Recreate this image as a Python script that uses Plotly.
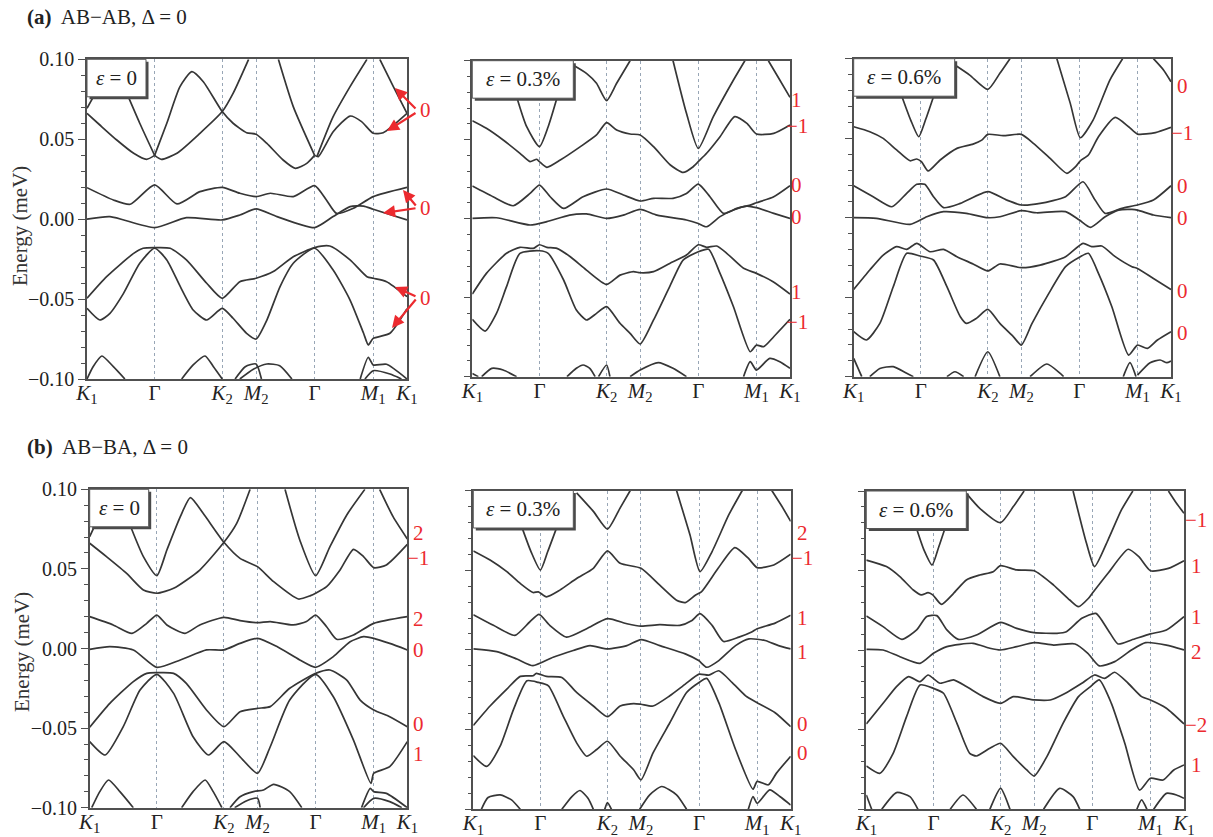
import plotly.graph_objects as go

# ---------------- axes / labels ----------------
K_SYM = [0, 1, 2, 2.5, 3.366, 4.232, 4.732]
K_LABELS = ["<i>K</i><sub>1</sub>", "Γ", "<i>K</i><sub>2</sub>", "<i>M</i><sub>2</sub>",
            "Γ", "<i>M</i><sub>1</sub>", "<i>K</i><sub>1</sub>"]
E_TICKS = [-0.1, -0.05, 0.0, 0.05, 0.1]
E_TICK_TEXT = ["−0.10", "−0.05", "0.00", "0.05", "0.10"]
UEV = 1e-3  # band energies below are given in µeV (1e-3 meV)

# ---------------- band data: (k, E[µeV]) ----------------
a1_bands = [
    ([0, 0.19, 0.39], [69.3, 83.9, 100]),
    ([0, 0.19, 0.44, 0.69, 0.88, 1.0], [66.2, 58.9, 49.5, 41.2, 37.4, 39.9]),
    ([1.0, 1.10, 1.33, 1.67, 2.0, 2.16, 2.39], [39.9, 37.4, 41.2, 53.7, 67.3, 78.7, 100]),
    ([0.61, 0.78, 1.0], [76.6, 60, 39.9]),
    ([1.0, 1.18, 1.375, 1.55, 1.72, 2.0, 2.16, 2.36, 2.5, 2.66, 2.90, 3.08, 3.25, 3.366],
     [39.9, 60, 82.9, 92.3, 86.0, 67.3, 60, 54.1, 53.1, 47.4, 37, 31.8, 34.9, 39.9]),
    ([2.83, 3.05, 3.366], [100, 70.4, 39.9]),
    ([3.366, 3.42, 3.64, 3.89, 4.06, 4.232, 4.38, 4.732], [39.9, 39.1, 54.7, 64.5, 61, 53.7, 54.1, 66.2]),
    ([3.40, 3.64, 3.89, 4.14], [39.1, 64.1, 82.9, 100]),
    ([4.33, 4.53, 4.732], [100, 82.9, 66.2]),
    ([0, 0.39, 0.64, 1.0, 1.33, 1.67, 2.0, 2.26, 2.5, 2.71, 3.05, 3.366, 3.54, 3.69, 3.94, 4.232, 4.732],
     [19.7, 12, 9.3, 21.4, 9.5, 17.2, 19.9, 16.2, 14.1, 16.2, 14.1, 21, 12, 3.6, 6.8, 14.1, 19.9]),
    ([0, 0.34, 1.0, 1.47, 2.0, 2.26, 2.5, 2.81, 3.366, 3.64, 3.89, 4.09, 4.232, 4.732],
     [0, 1.6, -5.3, 0.9, -0.5, 2.6, 6.4, 1.6, -5.3, 1.6, 7.8, 8.2, 6.2, -0.5]),
    ([0, 0.29, 0.69, 0.83, 1.0, 1.23, 1.47, 1.77, 2.0, 2.26, 2.5, 2.755, 3.05, 3.366, 3.59, 3.89, 4.14, 4.232, 4.43, 4.732],
     [-49.5, -36, -21.4, -18.2, -17.8, -18.2, -25.5, -40.1, -49.5, -39.1, -37, -32.8, -23.5, -17.8, -16.8, -25.5, -36, -37, -39.1, -48.5]),
    ([0, 0.19, 0.34, 0.54, 0.78, 1.0, 1.18, 1.38, 1.57, 1.77, 2.0, 2.16, 2.36, 2.5, 2.66, 2.855, 3.05, 3.366, 3.64, 3.89, 4.09, 4.16, 4.232, 4.48, 4.732],
     [-55.8, -63.1, -58.9, -46.4, -27.6, -18.2, -25.5, -42.2, -56.8, -63.1, -55.8, -62, -71.4, -75, -63.1, -42.2, -27.6, -18.2, -31.8, -50.6, -71.4, -78.7, -74.6, -71.4, -56]),
    ([0, 0.09, 0.22, 0.39, 0.56], [-100, -92.3, -85.6, -92.3, -100]),
    ([1.40, 1.57, 1.745, 1.87, 2.0], [-100, -91.2, -85.6, -92.3, -100]),
    ([2.19, 2.34, 2.5, 2.58], [-100, -92.3, -90.6, -100]),
    ([2.26, 2.46, 2.66, 2.85, 3.03], [-100, -93.9, -90.6, -91.7, -100]),
    ([4.04, 4.16, 4.232, 4.43, 4.732], [-100, -86.4, -91.2, -90.8, -100]),
    ([4.11, 4.232, 4.48, 4.65], [-100, -94.8, -96.9, -100]),
]

a2_bands = [
    ([0.66, 0.81, 1.0, 1.13, 1.26], [77.2, 58.2, 45.6, 58.2, 76.2]),
    ([1.50, 1.70, 1.85, 2.0, 2.15, 2.35], [97.3, 92, 85.7, 74.7, 85.7, 100]),
    ([0, 0.21, 0.46, 0.71, 0.86, 0.96, 1.0, 1.11, 1.31, 1.61, 1.85, 2.0, 2.15, 2.35, 2.5, 2.70, 2.95, 3.14, 3.29, 3.38, 3.49, 3.69, 3.91, 4.09, 4.232, 4.49, 4.732],
     [62, 57.2, 49.8, 41.4, 36.1, 37.6, 36.1, 32.5, 37.1, 45.6, 53, 60.8, 56.1, 53.6, 53, 45.6, 34, 29.3, 32.9, 36.7, 41.4, 51.9, 64.6, 60.3, 53.6, 54, 59.3]),
    ([2.99, 3.19, 3.366, 3.59, 3.89, 4.06], [100, 66.7, 44.5, 64.6, 87.8, 100]),
    ([4.41, 4.58, 4.732], [100, 87.8, 76.8]),
    ([0, 0.31, 0.61, 0.86, 1.0, 1.16, 1.36, 1.65, 2.0, 2.25, 2.5, 2.70, 2.99, 3.19, 3.366, 3.54, 3.74, 3.94, 4.14, 4.232, 4.49, 4.732],
     [20.7, 13.9, 8.2, 16, 21.3, 13.9, 6.5, 13.9, 18.8, 15, 11.2, 12.9, 12.9, 16, 21.9, 13.9, 3.4, 6.5, 8.6, 10.1, 13.9, 20.9]),
    ([0, 0.36, 0.86, 1.11, 1.45, 1.70, 2.0, 2.25, 2.5, 2.75, 3.19, 3.366, 3.49, 3.69, 3.89, 4.09, 4.232, 4.49, 4.732],
     [0.2, 0.6, -4, -1.9, 2.3, 3, 0.2, 2.3, 5.9, 2.3, -0.8, -3, -5.1, 1.3, 5.5, 8, 7, 3.4, 0.2]),
    ([0, 0.21, 0.51, 0.71, 0.91, 1.0, 1.11, 1.26, 1.46, 1.70, 2.0, 2.20, 2.40, 2.5, 2.70, 2.94, 3.19, 3.366, 3.49, 3.64, 3.79, 4.04, 4.232, 4.48, 4.732],
     [-47.7, -34.6, -21.9, -18.1, -18.8, -16.5, -18.1, -18.8, -24.1, -32.5, -41.6, -35.7, -33.5, -34.2, -33.5, -28.3, -23, -16.5, -18.1, -17.3, -21.9, -31.4, -34.6, -39.9, -47.7]),
    ([0, 0.19, 0.36, 0.51, 0.71, 1.0, 1.13, 1.36, 1.55, 1.70, 1.85, 2.0, 2.20, 2.35, 2.5, 2.70, 2.94, 3.14, 3.366, 3.52, 3.69, 3.89, 4.14, 4.232, 4.34, 4.49, 4.732],
     [-63.7, -71.1, -59.9, -43, -21.9, -20.3, -21.9, -38.8, -57.8, -64.1, -59.9, -55.7, -66.2, -72.6, -79.3, -64.1, -43, -26.2, -20.9, -19.4, -34.6, -55.7, -84.2, -80, -81, -74.7, -63.7]),
    ([0, 0.09], [-97.9, -100]),
    ([0.14, 0.29, 0.46, 0.66], [-100, -94.7, -95.8, -100]),
    ([1.41, 1.55, 1.65, 1.75, 1.83], [-100, -94.7, -92.6, -94.7, -100]),
    ([1.88, 2.0, 2.05], [-100, -92.6, -100]),
    ([2.35, 2.5, 2.77, 2.99, 3.19], [-100, -95.8, -91.1, -94.7, -100]),
    ([4.04, 4.14, 4.232, 4.43, 4.58, 4.732], [-100, -90.5, -95.8, -88.4, -90.5, -94.7]),
]

a3_bands = [
    ([0.72, 0.85, 0.97, 1.07, 1.19], [76.1, 61.4, 50.9, 61.4, 76.1]),
    ([1.51, 1.73, 2.0, 2.18, 2.33], [96, 89.7, 80.7, 90.8, 100]),
    ([0, 0.24, 0.44, 0.64, 0.84, 0.94, 1.01, 1.11, 1.29, 1.54, 1.78, 1.91, 2.0, 2.23, 2.5, 2.68, 2.93, 3.18, 3.31, 3.38, 3.50, 3.65, 3.90, 4.10, 4.232, 4.50, 4.732],
     [57.2, 54.1, 49.9, 42.6, 35.8, 36.9, 35.2, 29.4, 36.3, 43.6, 46.3, 48.8, 52.4, 51.6, 52.4, 46.8, 37.3, 27.9, 32.1, 35.8, 39.4, 50.9, 63.1, 57.2, 52.6, 53.5, 56.8]),
    ([3.03, 3.23, 3.38, 3.57, 3.82, 4.01], [100, 71.9, 50.3, 61.4, 86.6, 100]),
    ([4.47, 4.62, 4.732], [100, 92.9, 85.5]),
    ([0, 0.29, 0.57, 0.79, 0.94, 1.06, 1.19, 1.34, 1.59, 2.0, 2.28, 2.5, 2.78, 3.16, 3.42, 3.60, 3.75, 4.0, 4.232, 4.47, 4.732],
     [20.1, 13.2, 6.9, 15.3, 21, 21, 13.2, 6.3, 9, 16.4, 11.1, 8, 9, 13.2, 22.6, 11.1, 2.7, 5.9, 8, 11.1, 20.1]),
    ([0, 0.34, 0.84, 1.09, 1.34, 1.68, 2.0, 2.18, 2.5, 2.73, 3.16, 3.366, 3.53, 3.75, 3.95, 4.15, 4.232, 4.47, 4.732],
     [0, -0.4, -4.2, 0.6, 3.8, 2.7, 0, 0.6, 4.4, 3.1, 3.8, -1.5, -6.1, 0.6, 4.8, 5.2, 4.8, 1.7, 0]),
    ([0, 0.24, 0.44, 0.64, 0.79, 0.94, 1.14, 1.34, 1.54, 1.78, 2.0, 2.18, 2.5, 2.78, 3.16, 3.42, 3.55, 3.70, 3.90, 4.15, 4.232, 4.47, 4.732],
     [-45.1, -32.9, -23.5, -18.2, -19.9, -16.1, -21.4, -19.9, -24.5, -29.1, -33.5, -29.1, -31.4, -29.8, -24.5, -16.1, -18.2, -17.8, -24.5, -30.8, -31.9, -38.2, -45.1]),
    ([0, 0.19, 0.39, 0.59, 0.79, 0.99, 1.19, 1.39, 1.59, 1.68, 1.83, 2.0, 2.18, 2.38, 2.5, 2.66, 2.91, 3.16, 3.366, 3.50, 3.65, 3.85, 4.10, 4.232, 4.38, 4.53, 4.732],
     [-71.7, -76.9, -66.5, -43.4, -22.4, -24.1, -26.6, -43.4, -62.3, -66.5, -63.3, -57.7, -66.5, -74.8, -80.1, -66.5, -47.6, -30.8, -24.9, -22.4, -35, -56, -86.4, -80.1, -82.2, -76.9, -71.7]),
    ([0, 0.12], [-88.5, -100]),
    ([0.24, 0.39, 0.59, 0.79, 0.89], [-100, -94.8, -93.7, -97.9, -100]),
    ([1.39, 1.51, 1.64], [-100, -96.9, -100]),
    ([1.81, 2.0, 2.18], [-100, -84.3, -100]),
    ([2.63, 2.88, 3.08, 3.13], [-100, -92, -97.9, -100]),
    ([4.02, 4.12, 4.21], [-100, -91.2, -100]),
    ([4.232, 4.42, 4.57, 4.67, 4.732], [-99, -91.2, -89.5, -91.2, -90.1]),
]

b1_bands = [
    ([0, 0.15, 0.33], [70.3, 83.9, 100]),
    ([0, 0.25, 0.55, 0.80, 1.0, 1.25, 1.64, 2.0, 2.19, 2.39], [66.1, 57.7, 47.2, 36.8, 34.7, 37.8, 49.3, 66.7, 78.6, 100]),
    ([0.62, 0.80, 1.0, 1.15, 1.35, 1.50, 1.69, 2.0, 2.24, 2.5, 2.74, 3.11, 3.29, 3.366, 3.53, 3.73, 3.93, 4.08, 4.232, 4.42, 4.732],
     [75.5, 57.7, 45.8, 61.9, 82.8, 94.8, 84.9, 66.7, 56.6, 51.4, 42, 31.1, 33.2, 34.7, 38.8, 49.3, 62.3, 57.7, 50.8, 52.5, 65.4]),
    ([2.91, 3.13, 3.366, 3.58, 3.83, 4.10], [100, 68.2, 45.8, 64, 83.9, 100]),
    ([4.32, 4.52, 4.732], [100, 82.8, 68.8]),
    ([0, 0.35, 0.63, 0.85, 1.0, 1.15, 1.42, 1.64, 2.0, 2.24, 2.5, 2.69, 3.03, 3.23, 3.366, 3.53, 3.68, 3.93, 4.232, 4.732],
     [20, 14.8, 9.5, 15.8, 21, 14.8, 9.5, 14.8, 19.6, 17.5, 16.2, 16.9, 14.8, 16.9, 21, 13.7, 5.8, 8.5, 15.8, 20]),
    ([0, 0.30, 0.65, 1.0, 1.35, 1.74, 2.0, 2.24, 2.5, 2.79, 3.13, 3.366, 3.63, 3.88, 4.08, 4.232, 4.47, 4.732],
     [-0.5, 1.2, -0.9, -11.8, -7.2, -0.9, -0.9, 3.2, 6.4, 1.2, -7.2, -11.8, -5.1, 4.3, 7.4, 6.4, 3.2, -0.9]),
    ([0, 0.30, 0.65, 0.85, 1.0, 1.25, 1.44, 1.74, 2.0, 2.24, 2.5, 2.69, 2.98, 3.366, 3.58, 3.83, 4.03, 4.232, 4.47, 4.732],
     [-49.5, -34.5, -20.8, -15.6, -15.2, -15.6, -21.9, -38.6, -49.1, -39.7, -37.6, -36.5, -25, -15.6, -13.5, -19.8, -32.4, -38.6, -42.8, -49.1]),
    ([0, 0.23, 0.50, 0.75, 1.0, 1.25, 1.54, 1.77, 2.0, 2.24, 2.5, 2.69, 2.98, 3.366, 3.63, 3.93, 4.19, 4.232, 4.47, 4.732],
     [-58.5, -66.9, -49.1, -26.1, -16.2, -28.2, -55.4, -66.9, -58.5, -68, -78.4, -61.7, -32.4, -16.2, -30.3, -57.5, -84.7, -78.4, -74.2, -58.5]),
    ([0.03, 0.15, 0.28, 0.45, 0.65], [-100, -89.9, -82.6, -89.9, -100]),
    ([1.37, 1.54, 1.72, 1.84, 1.97], [-100, -89.9, -82.6, -89.9, -100]),
    ([2.09, 2.24, 2.44, 2.59, 2.74, 2.98, 3.16], [-100, -93.1, -89.9, -88.9, -85.3, -89.9, -100]),
    ([2.16, 2.34, 2.5, 2.54], [-100, -95.6, -94.1, -100]),
    ([4.05, 4.18, 4.232, 4.42, 4.732], [-100, -87.9, -89.9, -91, -100]),
    ([4.08, 4.232, 4.47, 4.65], [-100, -94.1, -96.2, -100]),
]

b2_bands = [
    ([0.72, 0.86, 1.0, 1.11, 1.25], [77.5, 61.7, 50.1, 61.7, 77.5]),
    ([1.54, 1.79, 2.0, 2.19, 2.34], [98.5, 86.9, 75.8, 89.1, 100]),
    ([0, 0.25, 0.50, 0.70, 0.89, 0.97, 1.09, 1.29, 1.54, 1.79, 2.0, 2.19, 2.5, 2.78, 3.03, 3.16, 3.31, 3.40, 3.65, 3.90, 4.10, 4.232, 4.48, 4.732],
     [62.1, 56.4, 49.1, 41.7, 36, 36.4, 33.3, 37.5, 44.8, 51.2, 62.1, 54.3, 51.2, 40.6, 31.2, 29.7, 34.3, 36.4, 51.2, 64.2, 57.5, 51.6, 53.3, 60]),
    ([3.03, 3.23, 3.38, 3.56, 3.81, 4.01], [100, 72.2, 49.1, 61.7, 84.8, 100]),
    ([4.45, 4.60, 4.732], [100, 90.1, 80.6]),
    ([0, 0.30, 0.62, 0.84, 0.98, 1.14, 1.39, 1.69, 2.0, 2.29, 2.5, 2.78, 3.08, 3.26, 3.38, 3.56, 3.73, 3.96, 4.15, 4.232, 4.50, 4.732],
     [22.1, 15.4, 9.1, 17.5, 22.3, 15.4, 8, 13.3, 19.6, 16.4, 14.9, 15.8, 15.4, 18.5, 22.7, 15.4, 5.3, 8, 11.2, 13.3, 16.8, 21.7]),
    ([0, 0.35, 0.65, 0.89, 1.19, 1.49, 1.74, 2.0, 2.29, 2.5, 2.78, 3.16, 3.36, 3.48, 3.66, 3.91, 4.11, 4.35, 4.55, 4.732],
     [0.6, -1.1, -5.7, -9.9, -4.6, -0.4, 2.7, 0.6, 2.7, 6.5, 2.7, -2.5, -6.7, -10.9, -6.7, 2.7, 6.9, 5.9, 2.7, 0.6]),
    ([0, 0.25, 0.50, 0.70, 0.89, 0.94, 1.09, 1.32, 1.54, 1.79, 2.0, 2.19, 2.39, 2.5, 2.68, 2.93, 3.16, 3.366, 3.51, 3.66, 3.86, 4.06, 4.232, 4.50, 4.732],
     [-47.4, -35.2, -24.6, -16.6, -16.2, -14.7, -16.6, -17.3, -26.7, -35.2, -41.9, -35.2, -33.7, -34.1, -35.2, -28.8, -21.5, -15.2, -15.8, -13.1, -20.5, -28.8, -33.1, -39.4, -48.2]),
    ([0, 0.2, 0.4, 0.60, 0.80, 0.97, 1.12, 1.34, 1.54, 1.69, 1.84, 2.0, 2.19, 2.39, 2.5, 2.68, 2.93, 3.18, 3.366, 3.48, 3.66, 3.91, 4.17, 4.232, 4.4, 4.52, 4.732],
     [-66.3, -73.1, -60.4, -37.3, -19.4, -20.4, -22.5, -41.5, -58.3, -66.7, -62.5, -57.3, -66.7, -75.2, -81.5, -64.6, -45.7, -26.7, -20.4, -17.9, -33.1, -62.5, -87.4, -82.5, -84.6, -77.3, -66.7]),
    ([0.12, 0.22, 0.40, 0.57, 0.70], [-100, -92.6, -91, -94.1, -100]),
    ([1.32, 1.47, 1.59, 1.71, 1.79], [-100, -92, -88.2, -93.1, -100]),
    ([1.96, 2.0, 2.06], [-100, -95.8, -100]),
    ([2.48, 2.63, 2.81, 3.03, 3.18], [-100, -90.9, -85.7, -90.9, -100]),
    ([4.10, 4.17, 4.232, 4.42, 4.57, 4.732], [-100, -92, -96.2, -87.8, -92, -97.3]),
]

b3_bands = [
    ([0.74, 0.86, 0.98, 1.08, 1.18], [77.6, 62.9, 53.5, 65, 77.6]),
    ([1.49, 1.69, 2.0, 2.19, 2.35], [98.5, 89.1, 80.1, 90.2, 100]),
    ([0, 0.30, 0.50, 0.70, 0.82, 0.92, 0.99, 1.12, 1.30, 1.49, 1.69, 1.89, 2.0, 2.24, 2.5, 2.79, 3.03, 3.16, 3.31, 3.366, 3.60, 3.90, 4.06, 4.232, 4.50, 4.732],
     [56.6, 52.5, 46.2, 37.8, 34.7, 36.1, 34.7, 28.8, 35.7, 44.1, 47.2, 49.3, 53.1, 50.4, 49.9, 40.9, 31.5, 27.3, 32.6, 35.7, 48.3, 63.4, 58.7, 49.9, 51.4, 56.2]),
    ([3.08, 3.28, 3.40, 3.60, 3.80, 3.97], [100, 67.1, 52.5, 69.2, 88.1, 100]),
    ([4.50, 4.62, 4.732], [100, 92.3, 86]),
    ([0, 0.25, 0.53, 0.75, 0.90, 1.05, 1.20, 1.37, 1.64, 2.0, 2.24, 2.5, 2.84, 2.98, 3.21, 3.42, 3.60, 3.75, 3.95, 4.232, 4.47, 4.732],
     [21.5, 14.8, 6.8, 12.7, 21.1, 21.7, 12.7, 6.8, 9.5, 17.5, 13.7, 11, 10.6, 11.6, 20, 23.1, 12.7, 3.9, 6.4, 10.2, 12.7, 21.1]),
    ([0, 0.25, 0.5, 0.80, 1.0, 1.20, 1.59, 1.84, 2.0, 2.24, 2.5, 2.79, 3.11, 3.30, 3.47, 3.70, 3.95, 4.16, 4.47, 4.732],
     [0.5, 0.1, -4.1, -8.3, -2, 2.2, 4.3, 1.2, 0.1, 2.2, 4.7, 3.2, 3.9, -2, -9.9, -7.2, 0.1, 4.7, 3.2, 0.1]),
    ([0, 0.25, 0.45, 0.63, 0.80, 0.92, 1.10, 1.30, 1.49, 1.74, 2.0, 2.19, 2.5, 2.74, 2.98, 3.21, 3.40, 3.55, 3.70, 3.90, 4.10, 4.232, 4.47, 4.732],
     [-46.4, -33.4, -22.9, -16.6, -19.8, -15.6, -20.8, -18.7, -22.9, -29.2, -33.4, -29.2, -31.3, -31.3, -26.7, -20.8, -15.6, -17.7, -13.9, -20.8, -29.2, -31.3, -36.5, -46.4]),
    ([0, 0.20, 0.40, 0.60, 0.80, 1.0, 1.15, 1.35, 1.54, 1.64, 1.84, 2.0, 2.19, 2.39, 2.5, 2.69, 2.93, 3.16, 3.34, 3.47, 3.65, 3.85, 4.07, 4.232, 4.42, 4.58, 4.732],
     [-72.8, -77.4, -64.8, -41.8, -21.9, -24, -27.1, -46, -64.8, -66.5, -61.7, -58.5, -66.9, -75.3, -79.1, -66.9, -46, -29.2, -22.9, -18.7, -33.4, -58.5, -87.9, -80.5, -81.6, -75.3, -72.1]),
    ([0, 0.08], [-91, -100]),
    ([0.23, 0.45, 0.65, 0.77], [-100, -89.5, -92, -100]),
    ([1.25, 1.44, 1.64], [-100, -91, -100]),
    ([1.84, 2.0, 2.14], [-100, -86.8, -100]),
    ([2.64, 2.88, 3.08, 3.18], [-100, -86.8, -92, -100]),
    ([4.03, 4.10, 4.18], [-100, -94.1, -100]),
    ([4.28, 4.47, 4.62, 4.732], [-100, -90, -91, -93.1]),
]

# red side labels (Chern numbers), top to bottom
a1_marks = ["0", "0", "0"]
a2_marks = ["1", "−1", "0", "0", "1", "−1"]
a3_marks = ["0", "−1", "0", "0", "0", "0"]
b1_marks = ["2", "−1", "2", "0", "0", "1"]
b2_marks = ["2", "−1", "1", "1", "0", "0"]
b3_marks = ["−1", "1", "1", "2", "−2", "1"]

STRAINS = ["<i>ε</i> = 0", "<i>ε</i> = 0.3%", "<i>ε</i> = 0.6%"]

# ---------------- layout geometry (pixels of the 1213x837 page) ----------------
W, H = 1213, 837
panels = [
    ("a1", a1_bands, (87, 407), (59.3, 379), True, 59, a1_marks, 425, [110, 208, 298]),
    ("a2", a2_bands, (472.3, 790), (60.7, 376.7), False, 101, a2_marks, 797, [100, 126, 185, 217, 292, 322]),
    ("a3", a3_bands, (853.7, 1171), (58.7, 376.7), False, 101, a3_marks, 1182, [86, 133, 186, 218, 291, 333]),
    ("b1", b1_bands, (89.7, 407.3), (489.3, 807.7), True, 59, b1_marks, 418, [533, 558, 619, 650, 724, 754]),
    ("b2", b2_bands, (473.3, 790.7), (490.5, 809.3), False, 100, b2_marks, 802, [533, 558, 618, 652, 724, 753]),
    ("b3", b3_bands, (866.3, 1184), (491, 809.3), False, 100, b3_marks, 1196, [520, 566, 617, 652, 725, 765]),
]
YTITLE_POS = [(20, 226), (22, 652)]  # centre of "Energy (meV)" for rows (a), (b)

FONT = "Liberation Serif"
RED = "#ec2a2f"
BAND_COLOR = "#363636"
FRAME = "#505050"

fig = go.Figure()
layout = dict(width=W, height=H, margin=dict(l=0, r=0, t=0, b=0, autoexpand=False),
              paper_bgcolor="white", plot_bgcolor="white", showlegend=False,
              font=dict(family=FONT, size=19, color="#222"))
shapes, annotations = [], []

for i, (name, bands, (px0, px1), (pt, pb), showy, boxw, marks, mx, mys) in enumerate(panels):
    n = i + 1
    xa, ya = ("x" if n == 1 else f"x{n}"), ("y" if n == 1 else f"y{n}")
    xkey, ykey = ("xaxis" if n == 1 else f"xaxis{n}"), ("yaxis" if n == 1 else f"yaxis{n}")
    for ks, es in bands:
        fig.add_trace(go.Scatter(x=ks, y=[e * UEV for e in es], xaxis=xa, yaxis=ya, mode="lines",
                                 line=dict(color=BAND_COLOR, width=1.7, shape="spline", smoothing=0.6),
                                 hoverinfo="skip"))
    layout[xkey] = dict(domain=[px0 / W, px1 / W], range=[0, 4.732], anchor=ya, automargin=False,
                        tickmode="array", tickvals=K_SYM, ticktext=K_LABELS, ticks="",
                        ticklabelstandoff=-6,
                        showgrid=True, gridcolor="#98a6b6", griddash="dot", gridwidth=1,
                        zeroline=False, showline=True, mirror=True, linecolor=FRAME, linewidth=1.5,
                        tickfont=dict(family=FONT, size=21, color="#222"), fixedrange=True)
    layout[ykey] = dict(domain=[1 - pb / H, 1 - pt / H], range=[-0.1, 0.1], anchor=xa, automargin=False,
                        tickmode="array", tickvals=E_TICKS, ticktext=E_TICK_TEXT,
                        ticks="outside", ticklen=7, tickcolor=FRAME, tickwidth=1.2,
                        minor=dict(tickmode="linear", tick0=-0.1, dtick=0.01, ticks="outside",
                                   ticklen=4, tickcolor=FRAME, tickwidth=1),
                        showticklabels=showy, showgrid=False, zeroline=False,
                        showline=True, mirror=True, linecolor=FRAME, linewidth=1.5,
                        tickfont=dict(family=FONT, size=20, color="#222"), fixedrange=True)
    # strain label box with drop shadow
    pw, ph = px1 - px0, pb - pt
    bw, bh = boxw / pw, 37.5 / ph
    dxs, dys = 2.5 / pw, 2.5 / ph
    shapes.append(dict(type="rect", xref=f"{xa} domain", yref=f"{ya} domain",
                       x0=dxs, x1=bw + dxs, y0=1 - bh - dys, y1=1 - dys,
                       fillcolor="#4a4a4a", line=dict(width=0), layer="above"))
    shapes.append(dict(type="rect", xref=f"{xa} domain", yref=f"{ya} domain",
                       x0=0, x1=bw, y0=1 - bh, y1=1,
                       fillcolor="white", line=dict(color="#555", width=1), layer="above"))
    annotations.append(dict(text=STRAINS[i % 3], xref=f"{xa} domain", yref=f"{ya} domain",
                            x=bw / 2, y=1 - bh / 2, showarrow=False, xanchor="center", yanchor="middle",
                            font=dict(family=FONT, size=21, color="#222")))
    # red Chern labels
    for t, my in zip(marks, mys):
        annotations.append(dict(text=t, xref="paper", yref="paper", x=mx / W, y=1 - my / H,
                                showarrow=False, xanchor="center", yanchor="middle",
                                font=dict(family=FONT, size=21, color=RED)))

# y-axis titles
for (tx, ty) in YTITLE_POS:
    annotations.append(dict(text="Energy (meV)", xref="paper", yref="paper", x=tx / W, y=1 - ty / H,
                            textangle=-90, showarrow=False, xanchor="center", yanchor="middle",
                            font=dict(family=FONT, size=21, color="#333")))

# red arrows in panel (a): tip (px), tail (px)
arrow_tips = [(395, 88), (387, 131), (403, 190), (383, 213), (395, 287), (392, 328)]
arrow_tails = [(417, 110), (417, 112), (417, 207), (417, 208), (417, 297), (417, 298)]
for (tx, ty), (sx, sy) in zip(arrow_tips, arrow_tails):
    annotations.append(dict(text="", xref="paper", yref="paper", x=tx / W, y=1 - ty / H,
                            ax=sx - tx, ay=sy - ty, axref="pixel", ayref="pixel",
                            showarrow=True, arrowhead=2, arrowsize=1.1, arrowwidth=2.2,
                            arrowcolor=RED, standoff=0, startstandoff=0))

# panel titles
annotations.append(dict(text="<b>(a)</b>  AB−AB, Δ = 0", xref="paper", yref="paper",
                        x=25 / W, y=1 - 17 / H, showarrow=False, xanchor="left", yanchor="middle",
                        font=dict(family=FONT, size=21, color="#222")))
annotations.append(dict(text="<b>(b)</b>  AB−BA, Δ = 0", xref="paper", yref="paper",
                        x=25 / W, y=1 - 447 / H, showarrow=False, xanchor="left", yanchor="middle",
                        font=dict(family=FONT, size=21, color="#222")))

layout["shapes"] = shapes
layout["annotations"] = annotations
fig.update_layout(**layout)
fig.write_html("out.html")
